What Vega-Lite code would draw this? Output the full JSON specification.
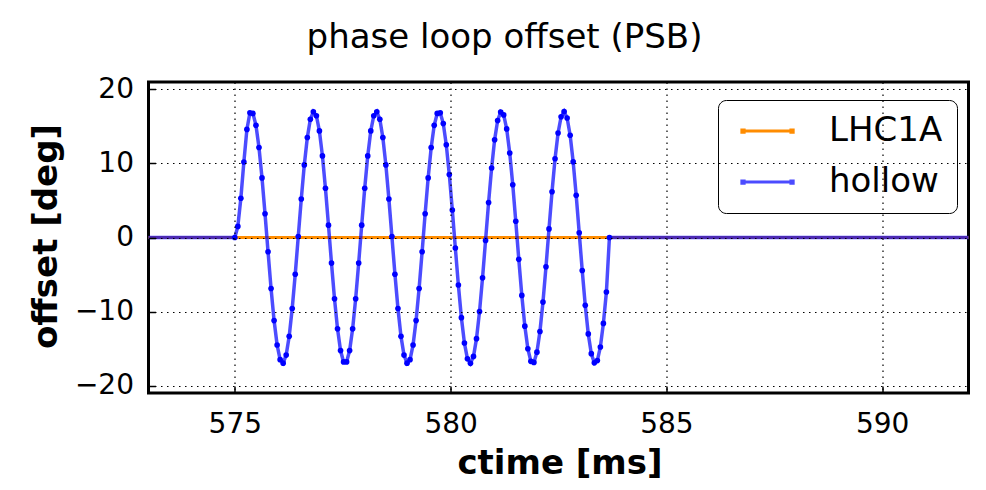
{
  "$schema": "https://vega.github.io/schema/vega-lite/v6.json",
  "width": 820,
  "height": 311,
  "autosize": {"type": "none"},
  "padding": {"left": 148.5, "top": 82, "right": 17.5, "bottom": 97},
  "background": "white",
  "config": {
    "font": "DejaVu Sans",
    "view": {"stroke": "#000", "strokeWidth": 3}
  },
  "title": {
    "text": "phase loop offset (PSB)",
    "fontSize": 34,
    "fontWeight": "normal",
    "color": "#000",
    "anchor": "middle",
    "frame": "group",
    "baseline": "alphabetic",
    "offset": 33,
    "dx": -54,
    "dy": 40
  },
  "datasets": {
    "signals": [
      {"t": 572, "v": 0, "s": "LHC1A"},
      {"t": 593, "v": 0, "s": "LHC1A"},
      {"t": 572, "v": 0, "s": "hollow"},
      {"t": 575.00, "v": 0, "s": "hollow"},
      {"t": 575.07, "v": 1.5, "s": "hollow"},
      {"t": 575.14, "v": 5.3, "s": "hollow"},
      {"t": 575.21, "v": 10.2, "s": "hollow"},
      {"t": 575.28, "v": 14.6, "s": "hollow"},
      {"t": 575.35, "v": 16.84, "s": "hollow"},
      {"t": 575.42, "v": 16.76, "s": "hollow"},
      {"t": 575.49, "v": 15.15, "s": "hollow"},
      {"t": 575.56, "v": 12.16, "s": "hollow"},
      {"t": 575.63, "v": 8.05, "s": "hollow"},
      {"t": 575.70, "v": 3.21, "s": "hollow"},
      {"t": 575.77, "v": -1.93, "s": "hollow"},
      {"t": 575.84, "v": -6.89, "s": "hollow"},
      {"t": 575.91, "v": -11.22, "s": "hollow"},
      {"t": 575.98, "v": -14.52, "s": "hollow"},
      {"t": 576.05, "v": -16.50, "s": "hollow"},
      {"t": 576.12, "v": -16.97, "s": "hollow"},
      {"t": 576.19, "v": -15.88, "s": "hollow"},
      {"t": 576.26, "v": -13.35, "s": "hollow"},
      {"t": 576.33, "v": -9.59, "s": "hollow"},
      {"t": 576.40, "v": -4.96, "s": "hollow"},
      {"t": 576.47, "v": 0.13, "s": "hollow"},
      {"t": 576.54, "v": 5.20, "s": "hollow"},
      {"t": 576.61, "v": 9.80, "s": "hollow"},
      {"t": 576.68, "v": 13.50, "s": "hollow"},
      {"t": 576.75, "v": 15.97, "s": "hollow"},
      {"t": 576.82, "v": 16.98, "s": "hollow"},
      {"t": 576.89, "v": 16.44, "s": "hollow"},
      {"t": 576.96, "v": 14.39, "s": "hollow"},
      {"t": 577.03, "v": 11.02, "s": "hollow"},
      {"t": 577.10, "v": 6.65, "s": "hollow"},
      {"t": 577.17, "v": 1.67, "s": "hollow"},
      {"t": 577.24, "v": -3.46, "s": "hollow"},
      {"t": 577.31, "v": -8.28, "s": "hollow"},
      {"t": 577.38, "v": -12.34, "s": "hollow"},
      {"t": 577.45, "v": -15.27, "s": "hollow"},
      {"t": 577.52, "v": -16.80, "s": "hollow"},
      {"t": 577.59, "v": -16.80, "s": "hollow"},
      {"t": 577.66, "v": -15.27, "s": "hollow"},
      {"t": 577.73, "v": -12.34, "s": "hollow"},
      {"t": 577.80, "v": -8.28, "s": "hollow"},
      {"t": 577.87, "v": -3.46, "s": "hollow"},
      {"t": 577.94, "v": 1.67, "s": "hollow"},
      {"t": 578.01, "v": 6.65, "s": "hollow"},
      {"t": 578.08, "v": 11.02, "s": "hollow"},
      {"t": 578.15, "v": 14.39, "s": "hollow"},
      {"t": 578.22, "v": 16.44, "s": "hollow"},
      {"t": 578.29, "v": 16.98, "s": "hollow"},
      {"t": 578.36, "v": 15.97, "s": "hollow"},
      {"t": 578.43, "v": 13.50, "s": "hollow"},
      {"t": 578.50, "v": 9.80, "s": "hollow"},
      {"t": 578.57, "v": 5.20, "s": "hollow"},
      {"t": 578.64, "v": 0.13, "s": "hollow"},
      {"t": 578.71, "v": -4.96, "s": "hollow"},
      {"t": 578.78, "v": -9.59, "s": "hollow"},
      {"t": 578.85, "v": -13.35, "s": "hollow"},
      {"t": 578.92, "v": -15.88, "s": "hollow"},
      {"t": 578.99, "v": -16.97, "s": "hollow"},
      {"t": 579.06, "v": -16.50, "s": "hollow"},
      {"t": 579.13, "v": -14.52, "s": "hollow"},
      {"t": 579.20, "v": -11.22, "s": "hollow"},
      {"t": 579.27, "v": -6.89, "s": "hollow"},
      {"t": 579.34, "v": -1.93, "s": "hollow"},
      {"t": 579.41, "v": 3.21, "s": "hollow"},
      {"t": 579.48, "v": 8.05, "s": "hollow"},
      {"t": 579.55, "v": 12.16, "s": "hollow"},
      {"t": 579.62, "v": 15.15, "s": "hollow"},
      {"t": 579.69, "v": 16.76, "s": "hollow"},
      {"t": 579.76, "v": 16.84, "s": "hollow"},
      {"t": 579.83, "v": 15.38, "s": "hollow"},
      {"t": 579.90, "v": 12.51, "s": "hollow"},
      {"t": 579.97, "v": 8.50, "s": "hollow"},
      {"t": 580.04, "v": 3.71, "s": "hollow"},
      {"t": 580.11, "v": -1.42, "s": "hollow"},
      {"t": 580.18, "v": -6.42, "s": "hollow"},
      {"t": 580.25, "v": -10.83, "s": "hollow"},
      {"t": 580.32, "v": -14.25, "s": "hollow"},
      {"t": 580.39, "v": -16.37, "s": "hollow"},
      {"t": 580.46, "v": -16.99, "s": "hollow"},
      {"t": 580.53, "v": -16.06, "s": "hollow"},
      {"t": 580.60, "v": -13.66, "s": "hollow"},
      {"t": 580.67, "v": -10.01, "s": "hollow"},
      {"t": 580.74, "v": -5.45, "s": "hollow"},
      {"t": 580.81, "v": -0.39, "s": "hollow"},
      {"t": 580.88, "v": 4.71, "s": "hollow"},
      {"t": 580.95, "v": 9.38, "s": "hollow"},
      {"t": 581.02, "v": 13.19, "s": "hollow"},
      {"t": 581.09, "v": 15.79, "s": "hollow"},
      {"t": 581.16, "v": 16.95, "s": "hollow"},
      {"t": 581.23, "v": 16.56, "s": "hollow"},
      {"t": 581.30, "v": 14.66, "s": "hollow"},
      {"t": 581.37, "v": 11.41, "s": "hollow"},
      {"t": 581.44, "v": 7.13, "s": "hollow"},
      {"t": 581.51, "v": 2.19, "s": "hollow"},
      {"t": 581.58, "v": -2.95, "s": "hollow"},
      {"t": 581.65, "v": -7.82, "s": "hollow"},
      {"t": 581.72, "v": -11.97, "s": "hollow"},
      {"t": 581.79, "v": -15.03, "s": "hollow"},
      {"t": 581.86, "v": -16.72, "s": "hollow"},
      {"t": 581.93, "v": -16.87, "s": "hollow"},
      {"t": 582.00, "v": -15.49, "s": "hollow"},
      {"t": 582.07, "v": -12.69, "s": "hollow"},
      {"t": 582.14, "v": -8.72, "s": "hollow"},
      {"t": 582.21, "v": -3.96, "s": "hollow"},
      {"t": 582.28, "v": 1.16, "s": "hollow"},
      {"t": 582.35, "v": 6.18, "s": "hollow"},
      {"t": 582.42, "v": 10.63, "s": "hollow"},
      {"t": 582.49, "v": 14.11, "s": "hollow"},
      {"t": 582.56, "v": 16.30, "s": "hollow"},
      {"t": 582.63, "v": 17.00, "s": "hollow"},
      {"t": 582.70, "v": 16.14, "s": "hollow"},
      {"t": 582.77, "v": 13.81, "s": "hollow"},
      {"t": 582.84, "v": 10.22, "s": "hollow"},
      {"t": 582.91, "v": 5.69, "s": "hollow"},
      {"t": 582.98, "v": 0.64, "s": "hollow"},
      {"t": 583.05, "v": -4.46, "s": "hollow"},
      {"t": 583.12, "v": -9.16, "s": "hollow"},
      {"t": 583.19, "v": -13.02, "s": "hollow"},
      {"t": 583.26, "v": -15.69, "s": "hollow"},
      {"t": 583.33, "v": -16.93, "s": "hollow"},
      {"t": 583.40, "v": -16.62, "s": "hollow"},
      {"t": 583.47, "v": -14.79, "s": "hollow"},
      {"t": 583.54, "v": -11.60, "s": "hollow"},
      {"t": 583.61, "v": -7.36, "s": "hollow"},
      {"t": 583.68, "v": 0, "s": "hollow"},
      {"t": 593, "v": 0, "s": "hollow"}
    ]
  },
  "data": {"name": "signals"},
  "encoding": {
    "x": {
      "field": "t",
      "type": "quantitative",
      "scale": {"domain": [573, 592], "nice": false, "zero": false},
      "axis": {
        "values": [575, 580, 585, 590],
        "format": "d",
        "grid": true,
        "gridDash": [1.5, 4.5],
        "gridColor": "#000",
        "gridWidth": 1.2,
        "domain": false,
        "tickSize": -7,
        "tickColor": "#000",
        "tickWidth": 1.5,
        "labelFontSize": 28,
        "labelColor": "#000",
        "labelBaseline": "alphabetic",
        "labelPadding": 46,
        "title": "ctime [ms]",
        "titleFontSize": 34,
        "titleFontWeight": "bold",
        "titleColor": "#000",
        "titleX": 411,
        "titleY": 80,
        "titleAlign": "center",
        "titleBaseline": "alphabetic",
        "zindex": 1
      }
    },
    "y": {
      "field": "v",
      "type": "quantitative",
      "scale": {"domain": [-21, 21], "nice": false},
      "axis": {
        "values": [-20, -10, 0, 10, 20],
        "format": "d",
        "grid": true,
        "gridDash": [1.5, 4.5],
        "gridColor": "#000",
        "gridWidth": 1.2,
        "domain": false,
        "tickSize": -7,
        "tickColor": "#000",
        "tickWidth": 1.5,
        "labelFontSize": 28,
        "labelColor": "#000",
        "labelPadding": 22,
        "title": "offset [deg]",
        "titleFontSize": 34,
        "titleFontWeight": "bold",
        "titleColor": "#000",
        "titleX": -92.5,
        "titleY": 154,
        "titleAngle": 270,
        "titleAlign": "center",
        "titleBaseline": "alphabetic",
        "zindex": 1
      }
    },
    "color": {
      "field": "s",
      "type": "nominal",
      "scale": {"domain": ["LHC1A", "hollow"], "range": ["#ff8c00", "#0000ff"]},
      "legend": {
        "title": null,
        "orient": "none",
        "legendX": 569.5,
        "legendY": 18,
        "symbolType": "M-0.4,0H2.87M-0.475,-0.075H-0.325V0.075H-0.475ZM2.795,-0.075H2.945V0.075H2.795Z",
        "symbolSize": 900,
        "symbolStrokeWidth": 3,
        "labelFontSize": 34,
        "labelFont": "DejaVu Sans",
        "labelColor": "#000",
        "labelOffset": 63,
        "labelLimit": 300,
        "rowPadding": 17,
        "padding": 14,
        "fillColor": "#fff",
        "strokeColor": "#000",
        "cornerRadius": 8
      }
    },
    "opacity": {
      "field": "s",
      "type": "nominal",
      "scale": {"domain": ["LHC1A", "hollow"], "range": [1, 0.7]},
      "legend": {
        "title": null,
        "orient": "none",
        "legendX": 569.5,
        "legendY": 18,
        "symbolType": "M-0.4,0H2.87M-0.475,-0.075H-0.325V0.075H-0.475ZM2.795,-0.075H2.945V0.075H2.795Z",
        "symbolSize": 900,
        "symbolStrokeWidth": 3,
        "labelFontSize": 34,
        "labelFont": "DejaVu Sans",
        "labelColor": "#000",
        "labelOffset": 63,
        "labelLimit": 300,
        "rowPadding": 17,
        "padding": 14,
        "fillColor": "#fff",
        "strokeColor": "#000",
        "cornerRadius": 8
      }
    }
  },
  "layer": [
    {
      "transform": [{"filter": "datum.s === 'LHC1A'"}],
      "mark": {"type": "line", "strokeWidth": 3, "clip": true}
    },
    {
      "transform": [{"filter": "datum.s === 'hollow'"}],
      "mark": {"type": "line", "strokeWidth": 3.5, "clip": true}
    },
    {
      "transform": [{"filter": "datum.s === 'hollow'"}],
      "mark": {"type": "circle", "size": 32, "clip": true},
      "encoding": {"opacity": {"value": 1}}
    }
  ]
}
